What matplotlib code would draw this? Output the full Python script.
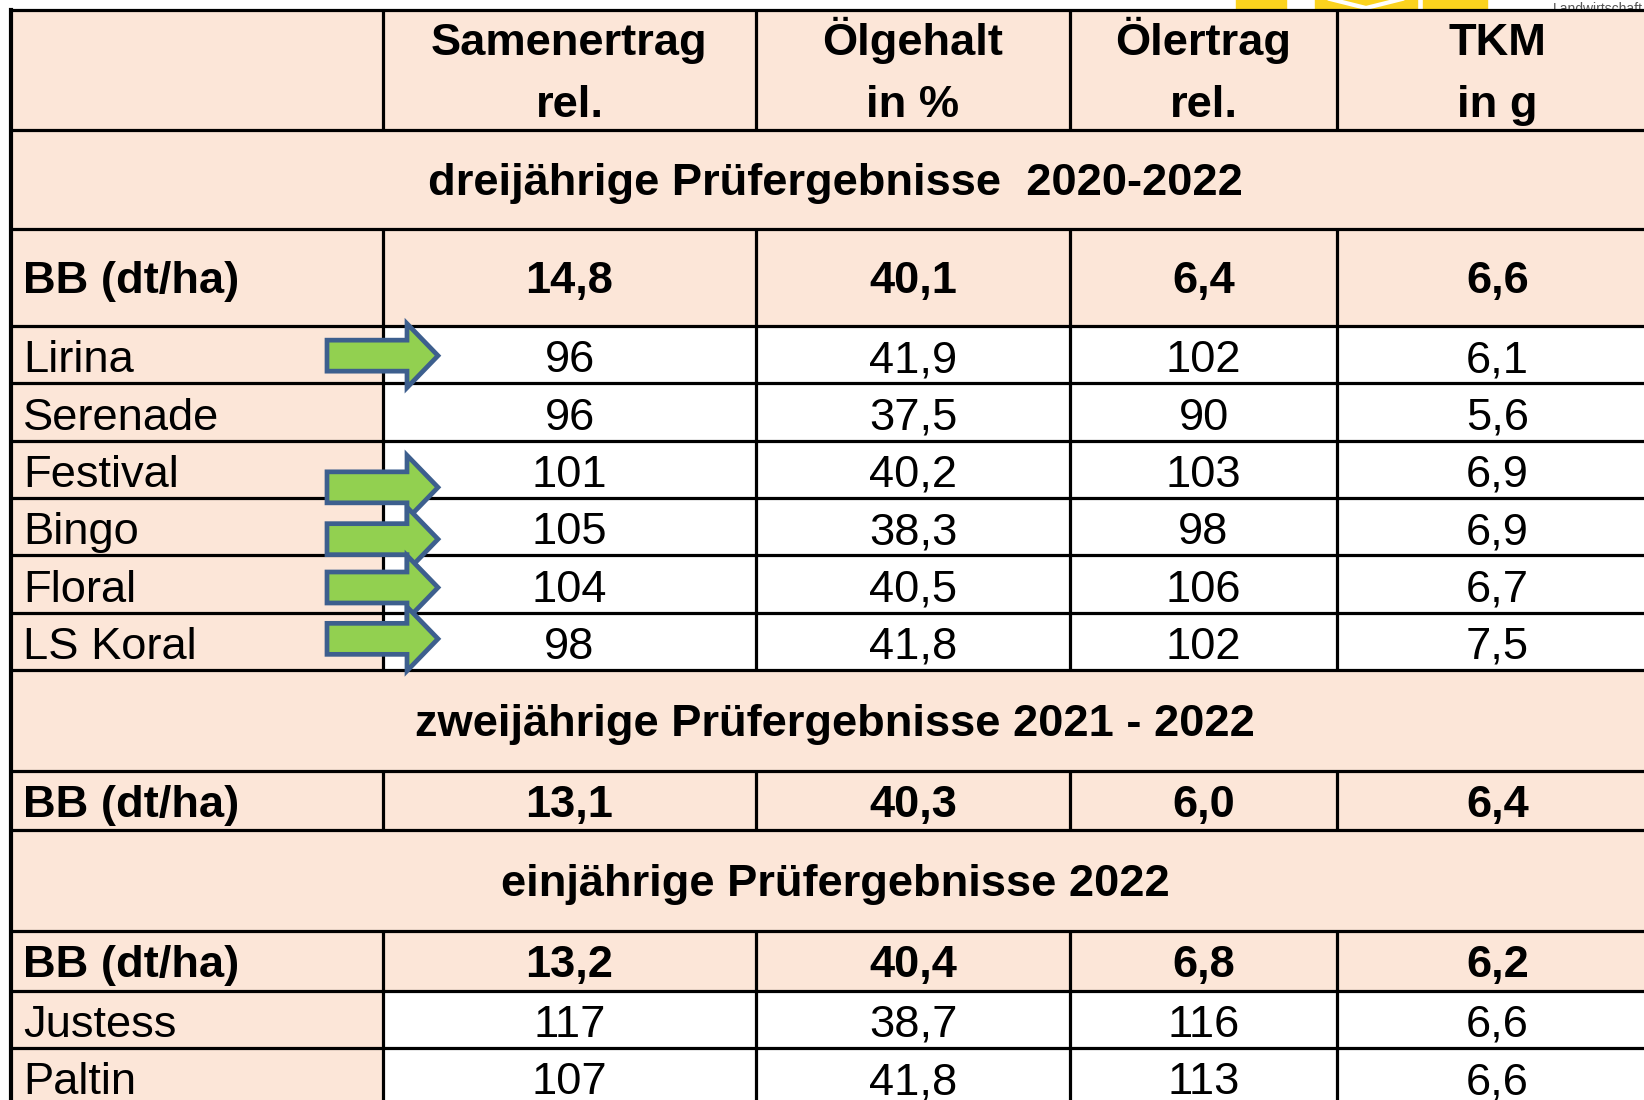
import matplotlib
matplotlib.use("Agg")
import matplotlib.pyplot as plt
from matplotlib.patches import Rectangle, Polygon

# ---- data ----
header_top = ["Samenertrag", "Ölgehalt", "Ölertrag", "TKM"]
header_bottom = ["rel.", "in %", "rel.", "in g"]

section_titles = ["dreijährige Prüfergebnisse  2020-2022",
                  "zweijährige Prüfergebnisse 2021 - 2022",
                  "einjährige Prüfergebnisse 2022"]

bb_label = "BB (dt/ha)"
bb_3j = [14.8, 40.1, 6.4, 6.6]
bb_2j = [13.1, 40.3, 6.0, 6.4]
bb_1j = [13.2, 40.4, 6.8, 6.2]

sorten_3j = ["Lirina", "Serenade", "Festival", "Bingo", "Floral", "LS Koral"]
samenertrag_3j = [96, 96, 101, 105, 104, 98]
oelgehalt_3j = [41.9, 37.5, 40.2, 38.3, 40.5, 41.8]
oelertrag_3j = [102, 90, 103, 98, 106, 102]
tkm_3j = [6.1, 5.6, 6.9, 6.9, 6.7, 7.5]

sorten_1j = ["Justess", "Paltin"]
samenertrag_1j = [117, 107]
oelgehalt_1j = [38.7, 41.8]
oelertrag_1j = [116, 113]
tkm_1j = [6.6, 6.6]

# varieties marked with a green arrow
markiert = ["Lirina", "Festival", "Bingo", "Floral", "LS Koral"]

# ---- layout (pixel units) ----
W, H = 1644, 1100
x_left, x_right = 11, 1658
col_edges = [x_left, 383, 756, 1070, 1337, x_right]
peach = "#FCE6D8"
fs = 32.6
font = "Liberation Sans"
lw = 2.3


def dec(v):
    return f"{v:.1f}".replace(".", ",")


def fmt_row(vals):
    s, o, e, t = vals
    return [str(s), dec(o), str(e), dec(t)]


rows = [("header", 120, None),
        ("section", 99, section_titles[0]),
        ("bb", 97, [dec(v) for v in bb_3j])]
for i, n in enumerate(sorten_3j):
    rows.append(("var", 344 / 6, (n, fmt_row([samenertrag_3j[i], oelgehalt_3j[i],
                                               oelertrag_3j[i], tkm_3j[i]]))))
rows += [("section", 101, section_titles[1]),
         ("bb", 59, [dec(v) for v in bb_2j]),
         ("section", 101, section_titles[2]),
         ("bb", 60, [dec(v) for v in bb_1j])]
for i, n in enumerate(sorten_1j):
    rows.append(("var", 57, (n, fmt_row([samenertrag_1j[i], oelgehalt_1j[i],
                                          oelertrag_1j[i], tkm_1j[i]]))))

arrow_nudge = {"Lirina": 1, "Festival": 18, "Bingo": 12.5, "Floral": 3.5, "LS Koral": -2.5}

fig = plt.figure(figsize=(W / 100, H / 100), dpi=100)
ax = fig.add_axes([0, 0, 1, 1])
ax.set_xlim(0, W)
ax.set_ylim(H, 0)
ax.axis("off")

# logo remains at top edge
yellow = "#FBD31E"
for x0, x1 in [(1236, 1286), (1315, 1417), (1423, 1487)]:
    ax.add_patch(Rectangle((x0, -2), x1 - x0, 11, color=yellow, zorder=0))
ax.plot([1330, 1366, 1402], [-1, 8, -1], color="white", lw=3, zorder=0.5)
ax.text(1553, 13, "Landwirtschaft", fontsize=10, color="#555555",
        family=font, va="baseline", zorder=0.2)

col_centers = [(col_edges[i] + col_edges[i + 1]) / 2 for i in range(1, 5)]
y = 10
hlines = [y]
for kind, h, content in rows:
    top, bot = y, y + h
    # backgrounds
    ax.add_patch(Rectangle((x_left, top), x_right - x_left, h, color=peach, zorder=1))
    if kind == "var":
        ax.add_patch(Rectangle((col_edges[1], top), x_right - col_edges[1], h,
                               color="white", zorder=1.1))
    if kind != "section":
        for xe in col_edges[1:5]:
            ax.plot([xe, xe], [top, bot], color="black", lw=lw, zorder=3,
                    solid_capstyle="butt")
    mid = (top + bot) / 2
    if kind == "header":
        for i, c in enumerate(col_centers):
            ax.text(c, top + 45, header_top[i], ha="center", va="baseline",
                    fontsize=fs, fontweight="bold", family=font, zorder=4)
            ax.text(c, top + 107, header_bottom[i], ha="center", va="baseline",
                    fontsize=fs, fontweight="bold", family=font, zorder=4)
    elif kind == "section":
        ax.text(835, mid + 15.5, content, ha="center", va="baseline",
                fontsize=fs, fontweight="bold", family=font, zorder=4)
    elif kind == "bb":
        ax.text(23, mid + 16, bb_label, ha="left", va="baseline",
                fontsize=fs, fontweight="bold", family=font, zorder=4)
        for i, c in enumerate(col_centers):
            ax.text(c, mid + 16, content[i], ha="center", va="baseline",
                    fontsize=fs, fontweight="bold", family=font, zorder=4)
    else:
        name, vals = content
        ax.text(23, bot - 11, name, ha="left", va="baseline",
                fontsize=fs, family=font, zorder=4)
        for i, c in enumerate(col_centers):
            ax.text(c, bot - 11, vals[i], ha="center", va="baseline",
                    fontsize=fs, family=font, zorder=4)
        if name in markiert:
            yc = mid + arrow_nudge[name]
            pts = [(327, yc - 15.5), (407, yc - 15.5), (407, yc - 32), (438, yc),
                   (407, yc + 32), (407, yc + 15.5), (327, yc + 15.5)]
            ax.add_patch(Polygon(pts, closed=True, facecolor="#92D050",
                                 edgecolor="#3D5F8E", lw=3.4, joinstyle="miter",
                                 zorder=5))
    y = bot
    hlines.append(y)

for yy in hlines:
    ax.plot([x_left, x_right], [yy, yy], color="black", lw=lw, zorder=3,
            solid_capstyle="projecting")
ax.plot([x_left, x_left], [10, y], color="black", lw=3, zorder=3)

fig.savefig("out.png", dpi=100)
